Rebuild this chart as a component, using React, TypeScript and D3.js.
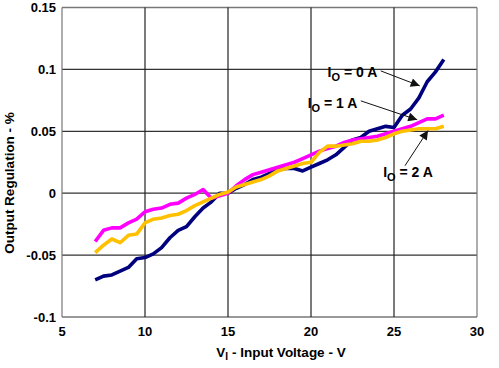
import React, { useEffect, useRef } from "react";
import * as d3 from "d3";

// input voltage samples (V)
const volts = [
  7, 7.5, 8, 8.5, 9, 9.5, 10, 10.5, 11, 11.5, 12, 12.5, 13, 13.5, 14, 14.5, 15,
  15.5, 16, 16.5, 17, 17.5, 18, 18.5, 19, 19.5, 20, 20.5, 21, 21.5, 22, 22.5,
  23, 23.5, 24, 24.5, 25, 25.5, 26, 26.5, 27, 27.5, 28,
];

// output regulation (%) per load current
const io0A = [
  -0.07, -0.067, -0.066, -0.063, -0.06, -0.053, -0.052, -0.049, -0.044, -0.036,
  -0.03, -0.027, -0.019, -0.012, -0.007, 0.0, 0.0, 0.004, 0.007, 0.011, 0.013,
  0.016, 0.019, 0.02, 0.02, 0.018, 0.021, 0.024, 0.027, 0.031, 0.037, 0.043,
  0.045, 0.05, 0.052, 0.054, 0.053, 0.063, 0.068, 0.077, 0.09, 0.098, 0.108,
];
const io1A = [
  -0.039, -0.03, -0.028, -0.028, -0.024, -0.021, -0.015, -0.013, -0.012,
  -0.009, -0.008, -0.004, -0.001, 0.003, -0.004, -0.002, 0.0, 0.006, 0.011,
  0.015, 0.017, 0.019, 0.021, 0.023, 0.025, 0.028, 0.031, 0.034, 0.036, 0.038,
  0.041, 0.043, 0.044, 0.045, 0.046, 0.048, 0.05, 0.052, 0.054, 0.057, 0.06,
  0.06, 0.063,
];
const io2A = [
  -0.048, -0.042, -0.037, -0.04, -0.034, -0.033, -0.024, -0.021, -0.02, -0.018,
  -0.017, -0.014, -0.01, -0.007, -0.004, -0.001, 0.001, 0.005, 0.007, 0.009,
  0.011, 0.014, 0.018, 0.02, 0.022, 0.024, 0.025, 0.033, 0.038, 0.038, 0.039,
  0.04, 0.042, 0.042, 0.043, 0.045, 0.048, 0.05, 0.051, 0.052, 0.052, 0.052,
  0.054,
];

const xTicks = [5, 10, 15, 20, 25, 30];
const yTicks = [-0.1, -0.05, 0, 0.05, 0.1, 0.15];
const yTickLabels = ["-0.1", "-0.05", "0", "0.05", "0.1", "0.15"];

const series = [
  { name: "0 A", values: io0A, color: "#00007f" },
  { name: "1 A", values: io1A, color: "#ff00ff" },
  { name: "2 A", values: io2A, color: "#ffc000" },
];

// callouts: label anchor and arrow in data units
const callouts = [
  { label: "0 A", tx: 21.0, ty: 0.094, ax: 24.2, ay: 0.0988, bx: 26.55, by: 0.0867 },
  { label: "1 A", tx: 19.8, ty: 0.069, ax: 23.0, ay: 0.0746, bx: 26.4, by: 0.0593 },
  { label: "2 A", tx: 24.35, ty: 0.0133, ax: 25.66, ay: 0.0222, bx: 27.05, by: 0.0506 },
];

export default function App() {
  const ref = useRef<SVGSVGElement>(null);

  useEffect(() => {
    const svg = d3.select(ref.current);
    svg.selectAll("*").remove();

    const width = 499;
    const height = 368;
    const margin = { top: 7.5, right: 22, bottom: 51, left: 62 };
    const font = "'Liberation Sans', Arial, sans-serif";

    svg.attr("width", width).attr("height", height);

    const x = d3.scaleLinear().domain([5, 30]).range([margin.left, width - margin.right]);
    const y = d3.scaleLinear().domain([-0.1, 0.15]).range([height - margin.bottom, margin.top]);

    svg.append("defs")
      .append("marker")
      .attr("id", "arrowhead")
      .attr("viewBox", "0 0 10 10")
      .attr("refX", 10)
      .attr("refY", 5)
      .attr("markerWidth", 12)
      .attr("markerHeight", 9)
      .attr("markerUnits", "userSpaceOnUse")
      .attr("orient", "auto")
      .append("path")
      .attr("d", "M0,0 L10,5 L0,10 Z")
      .attr("fill", "#111");

    // grid
    const grid = svg.append("g");
    grid.selectAll("line.h")
      .data(yTicks)
      .enter()
      .append("line")
      .attr("x1", x(5))
      .attr("x2", x(30))
      .attr("y1", d => y(d))
      .attr("y2", d => y(d))
      .attr("stroke", d => (d === 0.15 || d === -0.1 ? "#777" : "#333"))
      .attr("stroke-width", 1.3);
    grid.selectAll("line.v")
      .data(xTicks)
      .enter()
      .append("line")
      .attr("x1", d => x(d))
      .attr("x2", d => x(d))
      .attr("y1", y(0.15))
      .attr("y2", y(-0.1))
      .attr("stroke", d => (d === 5 || d === 30 ? "#777" : "#222"))
      .attr("stroke-width", 1.2);

    // tick labels
    svg.append("g")
      .selectAll("text")
      .data(yTicks)
      .enter()
      .append("text")
      .attr("x", margin.left - 6)
      .attr("y", d => y(d) + 4.5)
      .attr("text-anchor", "end")
      .attr("font-family", font)
      .attr("font-weight", "bold")
      .attr("font-size", 13)
      .text((d, i) => yTickLabels[i]);

    svg.append("g")
      .selectAll("text")
      .data(xTicks)
      .enter()
      .append("text")
      .attr("x", d => x(d))
      .attr("y", 336)
      .attr("text-anchor", "middle")
      .attr("font-family", font)
      .attr("font-weight", "bold")
      .attr("font-size", 13)
      .text(d => d);

    // axis titles
    const xt = svg.append("text")
      .attr("x", 281)
      .attr("y", 357)
      .attr("text-anchor", "middle")
      .attr("font-family", font)
      .attr("font-weight", "bold")
      .attr("font-size", 13.5);
    xt.append("tspan").text("V");
    xt.append("tspan").attr("font-size", 10).attr("dy", 3).text("I");
    xt.append("tspan").attr("dy", -3).text(" - Input Voltage - V");

    svg.append("text")
      .attr("transform", "translate(14,183) rotate(-90)")
      .attr("text-anchor", "middle")
      .attr("font-family", font)
      .attr("font-weight", "bold")
      .attr("font-size", 13.5)
      .text("Output Regulation - %");

    // curves
    const line = d3.line<number>()
      .x((d, i) => x(volts[i]))
      .y(d => y(d));

    svg.append("g")
      .selectAll("path")
      .data(series)
      .enter()
      .append("path")
      .attr("d", d => line(d.values))
      .attr("fill", "none")
      .attr("stroke", d => d.color)
      .attr("stroke-width", 3.6)
      .attr("stroke-linejoin", "round");

    // callouts
    const c = svg.append("g");
    callouts.forEach(d => {
      c.append("line")
        .attr("x1", x(d.ax))
        .attr("y1", y(d.ay))
        .attr("x2", x(d.bx))
        .attr("y2", y(d.by))
        .attr("stroke", "#111")
        .attr("stroke-width", 1)
        .attr("marker-end", "url(#arrowhead)");
      const t = c.append("text")
        .attr("x", x(d.tx))
        .attr("y", y(d.ty))
        .attr("font-family", font)
        .attr("font-weight", "bold")
        .attr("font-size", 14);
      t.append("tspan").text("I");
      t.append("tspan").attr("font-size", 11).attr("dy", 4).text("O");
      t.append("tspan").attr("dy", -4).text(" = " + d.label);
    });
  }, []);

  return (
    <svg ref={ref} style={{ position: "absolute", left: 0, top: 0 }}></svg>
  );
}
